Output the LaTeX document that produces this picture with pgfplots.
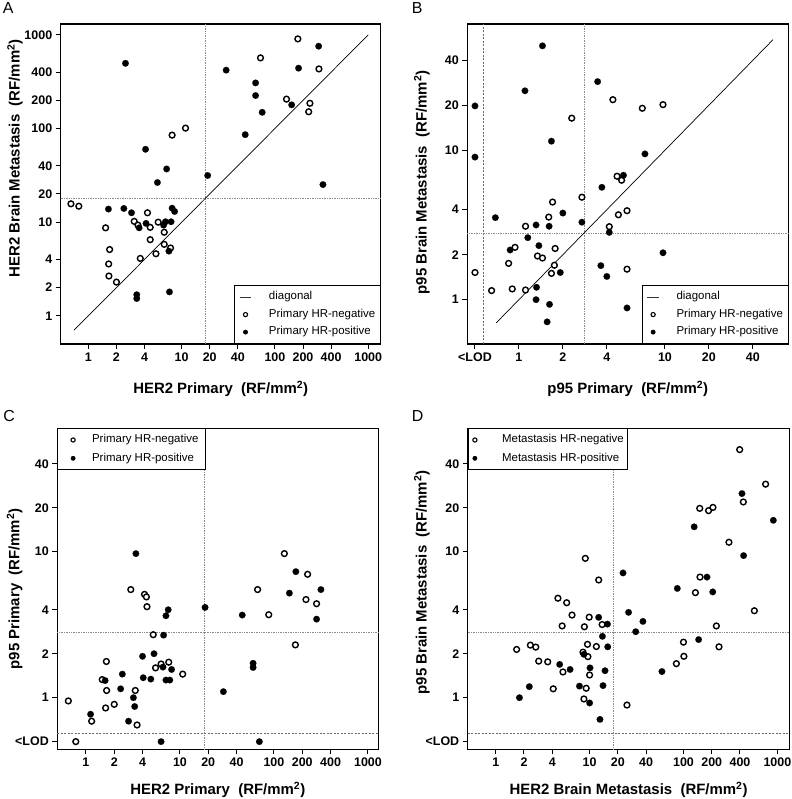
\documentclass[border=0pt]{standalone}
\usepackage{pgfplots}
\pgfplotsset{compat=1.18}
\usepackage{fontspec}
\setmainfont{Liberation Sans}
\definecolor{refgray}{HTML}{8C8C8C}
\definecolor{lodgray}{HTML}{6A6A6A}
\newcommand{\unitlab}{~~(RF/mm\textsuperscript{2})}
\newcommand{\limg}[3]{\path[draw=none,fill=none] (0bp,0bp) -- (#1bp,0bp); \draw[black, #3] (#2bp,0bp) circle (2.1bp);}
\newcommand{\tlfont}{\bfseries\fontsize{12.5}{13}\selectfont}
\newcommand{\lbfont}{\bfseries\fontsize{15}{16}\selectfont}
\newcommand{\lgfont}{\fontsize{11.5}{12}\selectfont}
\newcommand{\B}[1]{\textbf{#1}}
\begin{document}
\begin{tikzpicture}
\useasboundingbox (0bp,0bp) rectangle (792bp,799bp);
\node[anchor=base west, inner sep=0pt, font=\fontsize{16}{16}\selectfont] at (2.7bp,785.7bp) {A};
\node[anchor=base west, inner sep=0pt, font=\fontsize{16}{16}\selectfont] at (411.7bp,785.7bp) {B};
\node[anchor=base west, inner sep=0pt, font=\fontsize{16}{16}\selectfont] at (3.3bp,377.3bp) {C};
\node[anchor=base west, inner sep=0pt, font=\fontsize{16}{16}\selectfont] at (411.7bp,377.3bp) {D};

% ---------------- Panel A ----------------
\begin{axis}[at={(60.7bp,455bp)}, anchor=south west, scale only axis, width=320bp, height=320bp,
  xmode=log, ymode=log,
  axis line style={line width=1.5bp},
  tick style={black, line width=1bp},
  tick align=outside, major tick length=5bp, tick pos=left,
  xminorticks=false, yminorticks=false,
  xticklabel style={font=\tlfont}, yticklabel style={font=\tlfont},
  clip=false,
  xmin=0.505, xmax=1360, ymin=0.5, ymax=1307,
  xtick={1,2,4,10,20,40,100,200,400,1000}, xticklabels={\B{1},\B{2},\B{4},\B{10},\B{20},\B{40},\B{100},\B{200},\B{400},\B{1000}},
  ytick={1,2,4,10,20,40,100,200,400,1000}, yticklabels={\B{1},\B{2},\B{4},\B{10},\B{20},\B{40},\B{100},\B{200},\B{400},\B{1000}},
  xlabel={HER2 Primary\unitlab}, ylabel={HER2 Brain Metastasis\unitlab},
  xlabel style={at={(axis description cs:0.5,-0.154)}, anchor=base, font=\lbfont},
  ylabel style={at={(axis description cs:-0.128,0.58)}, anchor=base, font=\lbfont},
  legend cell align=left,
  legend style={at={(1,0)}, anchor=south east, draw=black, line width=0.8bp, fill=white,
      font=\lgfont, nodes={inner sep=0pt, text height=8.3bp, text depth=2.5bp},
      row sep=6.7bp, inner ysep=6.1bp, inner xsep=5bp},
]
\addplot[refgray, line width=0.7bp, densely dotted, forget plot] coordinates {(18,0.5) (18,1307)};
\addplot[refgray, line width=0.7bp, densely dotted, forget plot] coordinates {(0.505,18) (1360,18)};
\addplot[black, line width=0.7bp, no marks, legend image code/.code={\draw[black!80,line width=0.7bp] (0bp,0bp) -- (11.7bp,0bp); \path[draw=none] (0bp,0bp) -- (29.3bp,0bp);}] coordinates {(0.7,0.7) (1000,1000)};
\addlegendentry{diagonal}
\addplot[only marks, mark=*, mark size=2.9bp, mark options={fill=white, draw=black, line width=1.4bp}, legend image code/.code={\limg{29.3}{5.85}{fill=white,line width=1.1bp}}] coordinates {
(7.9,85) (11,101) (70,568) (176,906) (296,433) (133,206) (237,186) (230,151)
(0.65,15.7) (0.79,14.8) (1.53,8.7) (1.69,5.1) (1.65,3.58) (1.66,2.66) (2.0,2.29)
(3.1,10.2) (3.4,9.3) (4.3,12.6) (4.6,8.8) (4.6,6.5) (3.6,4.1) (5.3,4.6) (5.6,10)
(6.5,7.8) (6.5,5.8) (7.6,5.3)};
\addlegendentry{Primary HR-negative}
\addplot[only marks, mark=*, mark size=3.3bp, mark options={fill=black, draw=black, line width=0.1bp}, legend image code/.code={\limg{29.3}{5.85}{fill=black,line width=0.6bp}}] coordinates {
(2.5,497) (4.1,60) (6.9,37) (5.5,26.5) (19,31.5) (30,420) (48,86) (62,307) (62,225)
(73,149) (151,179) (179,441) (294,757) (327,25.2)
(1.64,13.8) (2.4,14) (2.9,12.6) (4.15,9.7) (3.5,8.7) (6.4,9.3) (6.7,10.1) (7.7,10.1)
(7.9,14.1) (8.4,13) (7.3,4.9) (3.3,1.68) (3.3,1.53) (7.4,1.8)};
\addlegendentry{Primary HR-positive}
\end{axis}

% ---------------- Panel B ----------------
\begin{axis}[at={(467.3bp,455bp)}, anchor=south west, scale only axis, width=321bp, height=320bp,
  xmode=log, ymode=log,
  axis line style={line width=1.5bp},
  tick style={black, line width=1bp},
  tick align=outside, major tick length=5bp, tick pos=left,
  xminorticks=false, yminorticks=false,
  xticklabel style={font=\tlfont}, yticklabel style={font=\tlfont},
  clip=false,
  xmin=0.443, xmax=70, ymin=0.505, ymax=70,
  xtick={0.5,1,2,4,10,20,40}, xticklabels={\B{<LOD},\B{1},\B{2},\B{4},\B{10},\B{20},\B{40}},
  ytick={1,2,4,10,20,40}, yticklabels={\B{1},\B{2},\B{4},\B{10},\B{20},\B{40}},
  xlabel={p95 Primary\unitlab}, ylabel={p95 Brain Metastasis\unitlab},
  xlabel style={at={(axis description cs:0.5,-0.154)}, anchor=base, font=\lbfont},
  ylabel style={at={(axis description cs:-0.127,0.505)}, anchor=base, font=\lbfont},
  legend cell align=left,
  legend style={at={(1,0)}, anchor=south east, draw=black, line width=0.8bp, fill=white,
      font=\lgfont, nodes={inner sep=0pt, text height=8.3bp, text depth=2.5bp},
      row sep=6.7bp, inner ysep=6.1bp, inner xsep=5bp},
]
\addplot[lodgray, line width=0.7bp, dash pattern=on 2bp off 1.5bp, forget plot] coordinates {(0.57,0.505) (0.57,70)};
\addplot[refgray, line width=0.7bp, densely dotted, forget plot] coordinates {(2.8,0.505) (2.8,70)};
\addplot[refgray, line width=0.7bp, densely dotted, forget plot] coordinates {(0.443,2.8) (70,2.8)};
\addplot[black, line width=0.7bp, no marks, legend image code/.code={\draw[black!80,line width=0.7bp] (0bp,0bp) -- (11.7bp,0bp); \path[draw=none] (0bp,0bp) -- (29.3bp,0bp);}] coordinates {(0.7,0.7) (55,55)};
\addlegendentry{diagonal}
\addplot[only marks, mark=*, mark size=2.9bp, mark options={fill=white, draw=black, line width=1.4bp}, legend image code/.code={\limg{29.3}{5.85}{fill=white,line width=1.1bp}}] coordinates {
(2.3,16.4) (4.4,21.8) (7.0,19.1) (9.7,20.2) (4.7,6.7) (5.05,6.3) (2.7,4.85)
(1.7,4.5) (1.11,3.1) (1.6,3.57) (4.8,3.7) (5.5,3.94) (4.16,3.08) (0.94,2.24)
(1.34,1.96) (1.45,1.9) (1.77,2.2) (0.85,1.75) (1.75,1.7) (1.67,1.5) (0.5,1.52)
(0.65,1.15) (0.9,1.18) (1.11,1.16) (5.5,1.6)};
\addlegendentry{Primary HR-negative}
\addplot[only marks, mark=*, mark size=3.3bp, mark options={fill=black, draw=black, line width=0.1bp}, legend image code/.code={\limg{29.3}{5.85}{fill=black,line width=0.6bp}}] coordinates {
(1.45,50) (1.1,25) (0.5,19.8) (0.5,9.0) (1.67,11.5) (3.46,28.8) (7.3,9.45) (5.2,6.8) (3.7,5.65)
(0.69,3.54) (2.0,3.8) (1.31,3.16) (1.61,3.1) (2.7,3.3) (4.16,2.82) (1.15,2.6) (1.37,2.3)
(0.87,2.15) (3.64,1.69) (4.0,1.43) (1.92,1.52) (1.32,1.21) (1.31,1.0) (1.62,0.93)
(1.56,0.71) (5.5,0.88) (9.7,2.06)};
\addlegendentry{Primary HR-positive}
\end{axis}

% ---------------- Panel C ----------------
\begin{axis}[at={(57.3bp,49.7bp)}, anchor=south west, scale only axis, width=321bp, height=321bp,
  xmode=log, ymode=log,
  axis line style={line width=1.5bp},
  tick style={black, line width=1bp},
  tick align=outside, major tick length=5bp, tick pos=left,
  xminorticks=false, yminorticks=false,
  xticklabel style={font=\tlfont}, yticklabel style={font=\tlfont},
  clip=false,
  xmin=0.496, xmax=1288, ymin=0.443, ymax=70,
  xtick={1,2,4,10,20,40,100,200,400,1000}, xticklabels={\B{1},\B{2},\B{4},\B{10},\B{20},\B{40},\B{100},\B{200},\B{400},\B{1000}},
  ytick={0.5,1,2,4,10,20,40}, yticklabels={\B{<LOD},\B{1},\B{2},\B{4},\B{10},\B{20},\B{40}},
  xlabel={HER2 Primary\unitlab}, ylabel={p95 Primary\unitlab},
  xlabel style={at={(axis description cs:0.5,-0.142)}, anchor=base, font=\lbfont},
  ylabel style={at={(axis description cs:-0.118,0.5)}, anchor=base, font=\lbfont},
  legend cell align=left,
  legend style={at={(0,1)}, anchor=north west, draw=black, line width=0.8bp, fill=white,
      font=\lgfont, nodes={inner sep=0pt, text height=8.3bp, text depth=2.5bp},
      row sep=7.5bp, inner ysep=5.9bp, inner xsep=7bp},
]
\addplot[refgray, line width=0.7bp, densely dotted, forget plot] coordinates {(18,0.443) (18,70)};
\addplot[refgray, line width=0.7bp, densely dotted, forget plot] coordinates {(0.496,2.8) (1288,2.8)};
\addplot[lodgray, line width=0.7bp, dash pattern=on 2bp off 1.5bp, forget plot] coordinates {(0.496,0.573) (1288,0.573)};
\addplot[only marks, mark=*, mark size=2.9bp, mark options={fill=white, draw=black, line width=1.4bp}, legend image code/.code={\limg{27.4}{8.4}{fill=white,line width=1.1bp}}] coordinates {
(3.0,5.5) (4.2,5.1) (4.4,4.9) (129,9.7) (228,7.0) (67,5.5) (4.46,4.2) (219,4.7) (284,4.4)
(88,3.7) (169,2.3) (5.2,2.7) (1.65,1.77) (1.49,1.33) (1.66,1.12) (3.35,1.12) (1.62,0.85)
(2.0,0.9) (0.65,0.95) (1.15,0.69) (3.5,0.65) (0.78,0.5) (5.5,1.6) (6.3,1.7) (7.6,1.75) (10.7,1.45)};
\addlegendentry{Primary HR-negative}
\addplot[only marks, mark=*, mark size=3.3bp, mark options={fill=black, draw=black, line width=0.1bp}, legend image code/.code={\limg{27.4}{8.4}{fill=black,line width=0.6bp}}] coordinates {
(3.4,9.7) (171,7.3) (146,5.2) (316,5.5) (7.5,4.0) (7.1,3.64) (18.5,4.15) (46,3.68) (284,3.45)
(6.7,2.68) (5.3,2.0) (4.0,1.92) (6.6,1.62) (8.15,1.56) (4.07,1.37) (4.9,1.34) (7.1,1.32)
(7.8,1.32) (1.6,1.31) (2.44,1.45) (2.34,1.15) (3.2,1.0) (3.3,0.87) (2.84,0.69) (1.12,0.77)
(60,1.72) (60,1.61) (29,1.1) (6.3,0.5) (70,0.5)};
\addlegendentry{Primary HR-positive}
\end{axis}

% ---------------- Panel D ----------------
\begin{axis}[at={(467.7bp,49.7bp)}, anchor=south west, scale only axis, width=321.6bp, height=321bp,
  xmode=log, ymode=log,
  axis line style={line width=1.5bp},
  tick style={black, line width=1bp},
  tick align=outside, major tick length=5bp, tick pos=left,
  xminorticks=false, yminorticks=false,
  xticklabel style={font=\tlfont}, yticklabel style={font=\tlfont},
  clip=false,
  xmin=0.503, xmax=1341, ymin=0.443, ymax=70,
  xtick={1,2,4,10,20,40,100,200,400,1000}, xticklabels={\B{1},\B{2},\B{4},\B{10},\B{20},\B{40},\B{100},\B{200},\B{400},\B{1000}},
  ytick={0.5,1,2,4,10,20,40}, yticklabels={\B{<LOD},\B{1},\B{2},\B{4},\B{10},\B{20},\B{40}},
  xlabel={HER2 Brain Metastasis\unitlab}, ylabel={p95 Brain Metastasis\unitlab},
  xlabel style={at={(axis description cs:0.5,-0.142)}, anchor=base, font=\lbfont},
  ylabel style={at={(axis description cs:-0.128,0.52)}, anchor=base, font=\lbfont},
  legend cell align=left,
  legend style={at={(0,1)}, anchor=north west, draw=black, line width=0.8bp, fill=white,
      font=\lgfont, nodes={inner sep=0pt, text height=8.3bp, text depth=2.5bp},
      row sep=7.5bp, inner ysep=5.9bp, inner xsep=4bp},
]
\addplot[refgray, line width=0.7bp, densely dotted, forget plot] coordinates {(17.9,0.443) (17.9,70)};
\addplot[refgray, line width=0.7bp, densely dotted, forget plot] coordinates {(0.503,2.8) (1341,2.8)};
\addplot[lodgray, line width=0.7bp, dash pattern=on 2bp off 1.5bp, forget plot] coordinates {(0.503,0.573) (1341,0.573)};
\addplot[only marks, mark=*, mark size=2.9bp, mark options={fill=white, draw=black, line width=1.4bp}, legend image code/.code={\limg{30}{2.8}{fill=white,line width=1.1bp}}] coordinates {
(397,50) (750,29) (434,21.9) (149,19.8) (185,19.1) (206,20.1) (305,11.6) (9.0,9.0) (12.5,6.4)
(150,6.7) (134,5.24) (4.6,4.8) (5.7,4.47) (6.5,3.68) (9.9,3.56) (5.1,3.1) (8.8,3.06) (13.6,3.17)
(569,3.94) (224,3.1) (239,2.23) (100,2.4) (101,1.92) (84,1.71) (1.67,2.14) (2.34,2.29)
(2.67,2.22) (2.87,1.78) (3.58,1.76) (5.2,1.5) (4.1,1.15) (9.5,2.32) (8.5,2.05) (9.6,1.91)
(11.8,2.24) (10,1.43) (9.2,1.16) (8.7,0.98) (25,0.89)};
\addlegendentry{Metastasis HR-negative}
\addplot[only marks, mark=*, mark size=3.3bp, mark options={fill=black, draw=black, line width=0.1bp}, legend image code/.code={\limg{30}{2.8}{fill=black,line width=0.6bp}}] coordinates {
(420,25) (906,16.4) (130,14.8) (437,9.4) (22.7,7.15) (178,6.7) (86,5.6) (205,5.3)
(26,3.84) (37,3.33) (31,2.83) (12.5,3.55) (15.5,3.19) (13.7,2.63) (15.6,2.23) (8.7,1.98)
(145,2.5) (59,1.51) (4.8,1.69) (6.2,1.56) (10.1,1.6) (14.6,1.53) (7.8,1.2) (13.9,1.21)
(2.28,1.19) (1.79,1.0) (10,0.92) (12.9,0.71)};
\addlegendentry{Metastasis HR-positive}
\end{axis}
\end{tikzpicture}
\end{document}
